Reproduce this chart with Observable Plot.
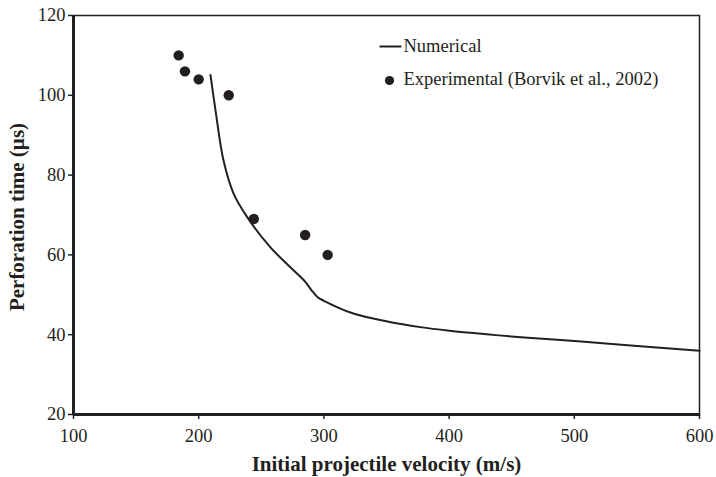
<!DOCTYPE html>
<html><head><meta charset="utf-8">
<script src="https://cdn.jsdelivr.net/npm/d3@7"></script>
<script src="https://cdn.jsdelivr.net/npm/@observablehq/plot@0.6"></script>
<style>
body{margin:0;background:#fff}
svg, svg text{font-family:"Liberation Serif", "Times New Roman", serif !important}
</style>
</head><body><div id="chart"></div>
<script>
// Numerical curve
const numVelocity = [209.4, 213.4, 219.8, 227.7, 238.9, 257.3, 273.2, 285, 290, 295, 300, 323.5, 350.7, 377, 400.2, 430, 460, 500, 540, 600];
const numTime     = [105.1, 96.3, 83.7, 75.5, 69.4, 61.9, 56.9, 53.3, 51.2, 49.4, 48.5, 45.3, 43.3, 41.9, 41.0, 40.1, 39.3, 38.4, 37.4, 36.0];
// Experimental points (Borvik et al., 2002)
const expVelocity = [184, 189, 200, 224, 244, 285, 303];
const expTime     = [110, 106, 104, 100, 69, 65, 60];
// Ticks and labels
const xTicks = [100, 200, 300, 400, 500, 600];
const yTicks = [20, 40, 60, 80, 100, 120];
const xTitle = "Initial projectile velocity (m/s)";
const yTitle = "Perforation time (\u00B5s)";
const legendLabels = ["Numerical", "Experimental (Borvik et al., 2002)"];

const numData = numVelocity.map((v, i) => ({v, t: numTime[i]}));
const expData = expVelocity.map((v, i) => ({v, t: expTime[i]}));
const ink = "#231f20";
const lineSymbol = {draw(ctx) { ctx.moveTo(-11, 0); ctx.lineTo(11, 0); }};

const chart = Plot.plot({
  width: 716, height: 477,
  marginLeft: 73, marginRight: 17, marginTop: 15, marginBottom: 63,
  style: "font-family: 'Liberation Serif', 'Times New Roman', serif; font-size: 18.5px; color: #231f20; background: #fff;",
  x: {domain: [100, 600]},
  y: {domain: [20, 120]},
  marks: [
    Plot.frame({stroke: ink, strokeWidth: 1.5}),
    Plot.axisX({ticks: xTicks, tickSize: 5, tickPadding: 9, label: null, fontSize: 18.5, strokeWidth: 1.5}),
    Plot.axisY({ticks: yTicks, tickSize: 5, tickPadding: 3, label: null, fontSize: 18.5, strokeWidth: 1.5}),
    Plot.ruleX([100], {stroke: ink, strokeWidth: 3}),
    Plot.ruleY([20], {stroke: ink, strokeWidth: 3}),
    Plot.line(numData, {x: "v", y: "t", stroke: ink, strokeWidth: 2, curve: "catmull-rom"}),
    Plot.dot(expData, {x: "v", y: "t", r: 5.2, fill: ink, stroke: "none"}),
    Plot.text([xTitle], {frameAnchor: "bottom", lineAnchor: "middle", dy: 50, fontSize: 21, fontWeight: "bold", fill: ink}),
    Plot.text([yTitle], {frameAnchor: "left", textAnchor: "middle", lineAnchor: "middle", dx: -56, dy: 2, rotate: -90, fontSize: 21, fontWeight: "bold", fill: ink}),
    Plot.dot([legendLabels[0]], {frameAnchor: "top-left", dx: 317, dy: 31, symbol: lineSymbol, stroke: ink, strokeWidth: 2, fill: "none"}),
    Plot.dot([legendLabels[1]], {frameAnchor: "top-left", dx: 316, dy: 65, r: 4.6, fill: ink, stroke: "none"}),
    Plot.text([legendLabels[0]], {frameAnchor: "top-left", lineAnchor: "middle", dx: 330, dy: 31, textAnchor: "start", fontSize: 18.5, fill: ink}),
    Plot.text([legendLabels[1]], {frameAnchor: "top-left", lineAnchor: "middle", dx: 330, dy: 64, textAnchor: "start", fontSize: 18.5, fill: ink})
  ]
});
document.getElementById("chart").append(chart);
</script>
</body></html>
